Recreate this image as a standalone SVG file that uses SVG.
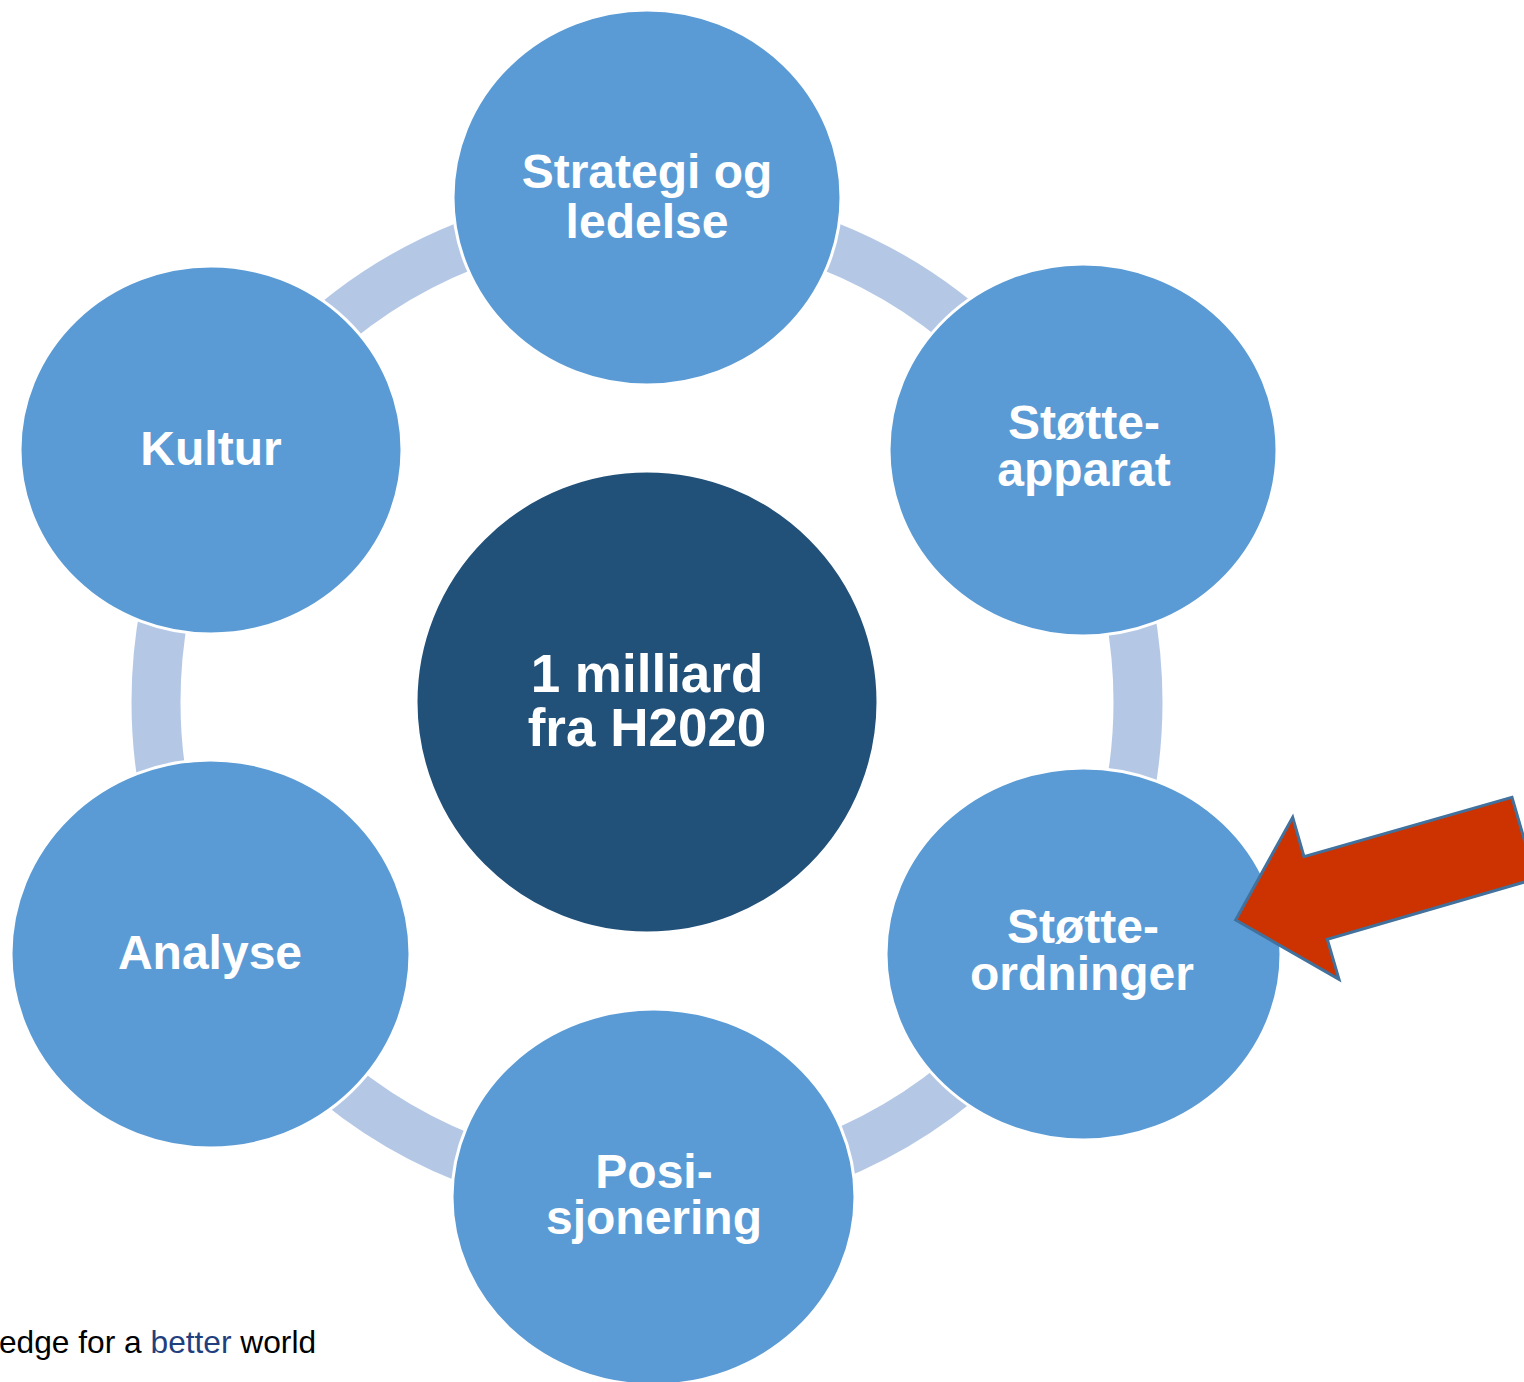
<svg xmlns="http://www.w3.org/2000/svg" width="1524" height="1382" viewBox="0 0 1524 1382">
<style>
.node{fill:#5B9BD5;stroke:#FFFFFF;stroke-width:3}
.hub{fill:#215079;stroke:#FFFFFF;stroke-width:3}
.lbl{font-family:"Liberation Sans",Arial,sans-serif;font-weight:bold;font-size:48px;fill:#FFFFFF;text-anchor:middle}
.hubl{font-family:"Liberation Sans",Arial,sans-serif;font-weight:bold;font-size:53px;fill:#FFFFFF;text-anchor:middle}
.foot{font-family:"Liberation Sans",Arial,sans-serif;font-size:31.7px;fill:#000000}
</style>
<rect width="1524" height="1382" fill="#FFFFFF"/>
<g id="connectors">
<circle cx="647" cy="702" r="491" fill="none" stroke="#B4C8E6" stroke-width="49"/>
</g>
<g id="hub">
<circle class="hub" cx="647" cy="702" r="231"/>
<text class="hubl" x="647" y="692">1 milliard</text>
<text class="hubl" x="647" y="746">fra H2020</text>
</g>
<g id="node-strategi">
<ellipse class="node" cx="647" cy="197.5" rx="194" ry="187.5"/>
<text class="lbl" x="647" y="188">Strategi og</text>
<text class="lbl" x="647" y="238">ledelse</text>
</g>
<g id="node-stotteapparat">
<ellipse class="node" cx="1083" cy="450" rx="194" ry="186"/>
<text class="lbl" x="1084" y="439">Støtte-</text>
<text class="lbl" x="1084" y="486">apparat</text>
</g>
<g id="node-stotteordninger">
<ellipse class="node" cx="1083.5" cy="954" rx="197.5" ry="186"/>
<text class="lbl" x="1083" y="943">Støtte-</text>
<text class="lbl" x="1082" y="990">ordninger</text>
</g>
<g id="node-posisjonering">
<ellipse class="node" cx="653.5" cy="1197" rx="201.5" ry="188"/>
<text class="lbl" x="654" y="1188">Posi-</text>
<text class="lbl" x="654" y="1234">sjonering</text>
</g>
<g id="node-analyse">
<ellipse class="node" cx="210.5" cy="954" rx="199.5" ry="194"/>
<text class="lbl" x="210" y="969">Analyse</text>
</g>
<g id="node-kultur">
<ellipse class="node" cx="211" cy="450" rx="191" ry="184"/>
<text class="lbl" x="211" y="465">Kultur</text>
</g>
<g id="arrow">
<polygon points="1235.7,920 1292.7,817.3 1304,856.7 1512,797.3 1535.6,878.7 1327.3,939.3 1339,979.3" fill="#CC3300" stroke="#41719C" stroke-width="3" stroke-linejoin="miter"/>
</g>
<text class="foot" x="-1" y="1353">edge for a <tspan fill="#1F3F7F">better</tspan> world</text>
</svg>
